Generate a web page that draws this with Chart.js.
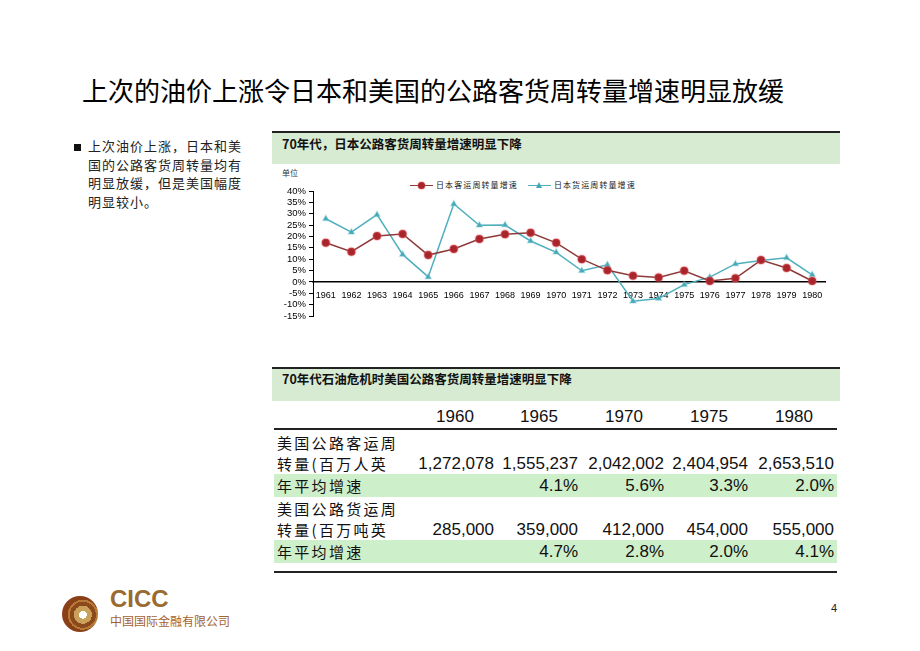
<!DOCTYPE html>
<html>
<head>
<meta charset="utf-8">
<script src="https://cdn.jsdelivr.net/npm/chart.js@4.4.1/dist/chart.umd.min.js"></script>
<style>
  body { margin: 0; background: #fff; font-family: "Noto Sans CJK SC", sans-serif; }
  #page { position: relative; width: 920px; height: 651px; overflow: hidden; background: #fff; }
  .abs { position: absolute; white-space: nowrap; }
  #title { left: 82px; top: 71px; font-size: 26px; line-height: 38px; color: #000; }
  #bullet { left: 74px; top: 144px; width: 7px; height: 7px; background: #111; }
  #note { left: 88px; top: 137px; font-size: 13px; line-height: 18.7px; letter-spacing: 1px; color: #222; }
  .band { background: #d7ead2; border-top: 2px solid #222; }
  .bandTitle { font-weight: bold; font-size: 12.5px; color: #111; }
  #legend { left: 410px; top: 178px; display: flex; align-items: center; font-size: 8px; line-height: 14px; letter-spacing: 1.1px; color: #222; }
  .item { display: flex; align-items: center; margin-right: 10px; }
  .swatch { position: relative; width: 23px; height: 14px; margin-right: 3px; }
  .swatch .ln { position: absolute; left: 0; right: 0; top: 6.5px; height: 1.5px; }
  .swatch .mk { position: absolute; left: 8px; top: 3.5px; }
  .row { position: absolute; left: 274px; width: 563px; display: flex; align-items: center; line-height: 19px; }
  .row .lab { width: 139px; padding-left: 3px; box-sizing: border-box; font-size: 15px; letter-spacing: 2.3px; color: #111; }
  .row .num { text-align: right; padding-right: 3px; box-sizing: border-box; font-family: "Liberation Sans", Arial, sans-serif; font-size: 17px; color: #111; }
  .row .hdr { text-align: center; padding-right: 0; }
  .green { background: #cdefc9; }
</style>
</head>
<body>
<div id="page">
  <div id="title" class="abs">上次的油价上涨令日本和美国的公路客货周转量增速明显放缓</div>

  <div id="bullet" class="abs"></div>
  <div id="note" class="abs">上次油价上涨，日本和美<br>国的公路客货周转量均有<br>明显放缓，但是美国幅度<br>明显较小。</div>

  <div class="abs band" style="left:272px;top:131px;width:568px;height:31px;"></div>
  <div class="abs bandTitle" style="left:282px;top:134px;line-height:20px;">70年代，日本公路客货周转量增速明显下降</div>
  <div class="abs" style="left:282px;top:167px;font-size:8px;line-height:12px;color:#333;">单位</div>
  <div id="legend" class="abs"></div>

  <div class="abs" style="left:270px;top:165px;">
    <canvas id="chart" width="570" height="165"></canvas>
  </div>

  <div class="abs band" style="left:272px;top:367px;width:568px;height:32px;"></div>
  <div class="abs bandTitle" style="left:282px;top:369px;line-height:20px;">70年代石油危机时美国公路客货周转量增速明显下降</div>
  <div id="table"></div>
  <div class="abs" style="left:274px;top:428px;width:563px;height:2px;background:#222;"></div>
  <div class="abs" style="left:274px;top:571px;width:563px;height:1.5px;background:#222;"></div>

  <div class="abs" style="left:62px;top:596px;width:36px;height:36px;border-radius:50%;background:radial-gradient(circle at 58% 52%, #fff 0 4px, #c9a15a 4px 9px, #8c4a1c 9px 13px, #b57a35 13px 15px, #8a3f16 15px);"></div>
  <div class="abs" style="left:110px;top:586px;font-family:'Liberation Sans',Arial,sans-serif;font-weight:bold;font-size:24px;line-height:25px;color:#9a6a30;">CICC</div>
  <div class="abs" style="left:110px;top:613px;font-size:12px;line-height:15px;color:#a4622e;">中国国际金融有限公司</div>
  <div class="abs" style="left:831px;top:602px;font-family:'Liberation Sans',Arial,sans-serif;font-size:11px;color:#222;">4</div>
</div>

<script>
// chart data
const years = ['1961', '1962', '1963', '1964', '1965', '1966', '1967', '1968', '1969', '1970',
               '1971', '1972', '1973', '1974', '1975', '1976', '1977', '1978', '1979', '1980'];
const passengerGrowth = [17.2, 13.3, 20.2, 21.1, 11.8, 14.5, 18.9, 21.0, 21.6, 17.2,
                         10.0, 5.1, 2.7, 1.9, 4.9, 0.4, 1.6, 9.6, 6.1, 0.4];
const freightGrowth = [27.8, 21.9, 29.6, 12.1, 2.2, 34.3, 24.9, 25.0, 18.0, 13.0,
                       4.9, 7.5, -8.5, -7.3, -1.2, 2.1, 7.9, 9.4, 10.6, 3.1];
const seriesNames = ['日本客运周转量增速', '日本货运周转量增速'];
const yMin = -15, yMax = 40, yStep = 5;

// table data
const tableYears = ['1960', '1965', '1970', '1975', '1980'];
const passengerVolume = ['1,272,078', '1,555,237', '2,042,002', '2,404,954', '2,653,510'];
const passengerAvg = ['', '4.1%', '5.6%', '3.3%', '2.0%'];
const freightVolume = ['285,000', '359,000', '412,000', '454,000', '555,000'];
const freightAvg = ['', '4.7%', '2.8%', '2.0%', '4.1%'];

const lineColors = ['#8e3a3a', '#4eafbd'];
const markColors = ['#a8262b', '#45a7b6'];

// legend
const legend = document.getElementById('legend');
seriesNames.forEach((name, i) => {
  const item = document.createElement('div');
  item.className = 'item';
  const sw = document.createElement('div');
  sw.className = 'swatch';
  const ln = document.createElement('div');
  ln.className = 'ln';
  ln.style.background = lineColors[i];
  sw.appendChild(ln);
  const mk = document.createElement('div');
  mk.className = 'mk';
  if (i === 0) {
    mk.style.cssText += 'width:7px;height:7px;border-radius:50%;background:' + markColors[i] + ';box-shadow:0 0 0 1px rgba(235,90,100,0.3);';
  } else {
    mk.style.cssText += 'width:0;height:0;border-left:3.5px solid transparent;border-right:3.5px solid transparent;border-bottom:6px solid ' + markColors[i] + ';';
  }
  sw.appendChild(mk);
  item.appendChild(sw);
  const t = document.createElement('span');
  t.textContent = name;
  item.appendChild(t);
  legend.appendChild(item);
});

// table
const tableDiv = document.getElementById('table');
function addRow(top, height, label, values, cls, header) {
  const row = document.createElement('div');
  row.className = 'row' + (cls ? ' ' + cls : '');
  row.style.top = top + 'px';
  row.style.height = height + 'px';
  const lab = document.createElement('div');
  lab.className = 'lab';
  lab.textContent = label;
  row.appendChild(lab);
  const widths = [84, 84, 86, 84, 86];
  values.forEach((v, i) => {
    if (v === '') return;
    const c = document.createElement('div');
    c.className = 'num' + (header ? ' hdr' : '');
    c.style.width = widths[i] + 'px';
    c.style.position = 'absolute';
    c.style.left = (139 + widths.slice(0, i).reduce((a, b) => a + b, 0)) + 'px';
    c.textContent = v;
    row.appendChild(c);
  });
  tableDiv.appendChild(row);
}
addRow(405, 22, '', tableYears, '', true);
addRow(431, 22, '美国公路客运周', [], '');
addRow(453, 21, '转量(百万人英', passengerVolume, '');
addRow(474, 23, '年平均增速', passengerAvg, 'green');
addRow(497, 22, '美国公路货运周', [], '');
addRow(519, 21, '转量(百万吨英', freightVolume, '');
addRow(540, 23, '年平均增速', freightAvg, 'green');

// chart
new Chart(document.getElementById('chart'), {
  type: 'line',
  data: {
    labels: years,
    datasets: [
      {
        label: seriesNames[0],
        data: passengerGrowth,
        borderColor: lineColors[0],
        borderWidth: 1.5,
        pointStyle: 'circle',
        pointRadius: 4,
        pointBackgroundColor: markColors[0],
        pointBorderColor: 'rgba(235,90,100,0.3)',
        pointBorderWidth: 2,
        tension: 0
      },
      {
        label: seriesNames[1],
        data: freightGrowth,
        borderColor: lineColors[1],
        borderWidth: 1.5,
        pointStyle: 'triangle',
        pointRadius: 3.5,
        pointBackgroundColor: markColors[1],
        pointBorderColor: 'rgba(120,200,210,0.35)',
        pointBorderWidth: 1.5,
        tension: 0
      }
    ]
  },
  options: {
    responsive: false,
    animation: false,
    layout: { padding: { left: 5, right: 15, top: 26, bottom: 14 } },
    plugins: { legend: { display: false }, tooltip: { enabled: false } },
    scales: {
      x: {
        position: { y: 0 },
        offset: true,
        grid: { display: false },
        border: { display: true, color: '#000', width: 1.5 },
        ticks: {
          color: '#000', autoSkip: false, maxRotation: 0, padding: 0,
          font: { family: 'Liberation Sans, Arial, sans-serif', size: 9 }
        }
      },
      y: {
        min: yMin,
        max: yMax,
        grid: { drawOnChartArea: false, tickLength: 4, color: '#000' },
        border: { display: true, color: '#000', width: 1 },
        ticks: {
          stepSize: yStep, autoSkip: false, color: '#000', padding: 3,
          font: { family: 'Liberation Sans, Arial, sans-serif', size: 9.5 },
          callback: v => v + '%'
        },
        afterFit: scale => { scale.width = 38; }
      }
    }
  }
});
</script>
</body>
</html>
